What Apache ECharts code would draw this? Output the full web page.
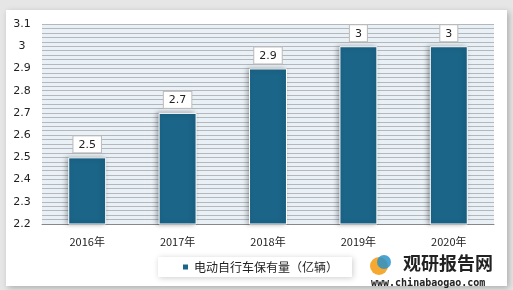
<!DOCTYPE html>
<html><head><meta charset="utf-8">
<script src="https://cdn.jsdelivr.net/npm/echarts@6/dist/echarts.min.js"></script>
<style>
html,body{margin:0;padding:0;background:#e6e6e6;}
#wrap{position:absolute;left:6px;top:10px;width:501px;height:276px;background:#fff;box-shadow:2px 2px 6px rgba(0,0,0,0.25);}
#c{position:absolute;left:0;top:0;width:513px;height:290px;}
</style></head>
<body>
<div id="wrap"></div>
<div id="c"></div>
<script>
const categories = ['2016年','2017年','2018年','2019年','2020年'];
const values = [2.5, 2.7, 2.9, 3, 3];
const seriesName = '电动自行车保有量（亿辆）';
const yMin = 2.2, yMax = 3.1, yStep = 0.1;

const chart = echarts.init(document.getElementById('c'));
chart.setOption({
  animation: false,
  textStyle: {fontFamily: 'Verdana, "DejaVu Sans", "Noto Sans CJK SC", sans-serif'},
  grid: {left: 42, right: 19, top: 24, bottom: 66},
  legend: {
    data: [seriesName],
    left: 158, top: 257,
    itemWidth: 7, itemHeight: 7, itemGap: 6,
    icon: 'rect',
    textStyle: {fontSize: 12, color: '#222', fontFamily: '"Noto Sans CJK SC", sans-serif'},
    padding: [4, 14, 4, 23],
    backgroundColor: '#fff',
    shadowColor: 'rgba(0,0,0,0.2)', shadowBlur: 6, shadowOffsetX: 1, shadowOffsetY: 1
  },
  xAxis: {
    type: 'category', data: categories,
    axisLine: {lineStyle: {color: '#888', width: 1}},
    axisTick: {show: false},
    axisLabel: {color: '#222', fontSize: 11, margin: 12, fontFamily: '"Noto Sans CJK SC", sans-serif'}
  },
  yAxis: {
    type: 'value', min: yMin, max: yMax, interval: yStep,
    axisLine: {show: false}, axisTick: {show: false},
    axisLabel: {color: '#222', fontSize: 11, margin: 20, align: 'center',
      formatter: v => String(Math.round(v*10)/10)},
    splitLine: {lineStyle: {color: '#b4b8bc', width: 1}},
    minorTick: {show: false, splitNumber: 5},
    minorSplitLine: {show: true, lineStyle: {color: '#b4b8bc', width: 1}},
    splitArea: {show: true, areaStyle: {color: ['#e9f0f6', '#e9f0f6']}}
  },
  series: [{
    name: seriesName, type: 'bar', data: values, barWidth: '42%',
    itemStyle: {color: '#1b6589', borderColor: '#fff', borderWidth: 1,
      shadowColor: 'rgba(0,0,0,0.35)', shadowBlur: 5, shadowOffsetX: -2, shadowOffsetY: 0},
    label: {show: true, position: 'top', distance: 5, color: '#222', fontSize: 11,
      backgroundColor: '#fff', borderColor: '#bbb', borderWidth: 1, padding: [3, 5, 2, 5],
      formatter: p => String(p.value)}
  }],
  graphic: [
    {type: 'circle', shape: {cx: 379, cy: 266, r: 9}, style: {fill: '#f5a01a', opacity: 0.9}},
    {type: 'circle', shape: {cx: 384, cy: 262, r: 7}, style: {fill: '#2a93c9', opacity: 0.85}},
    {type: 'text', left: 403, top: 254, style: {text: '观研报告网', fill: '#222', font: 'bold 18px "Noto Sans CJK SC", sans-serif'}},
    {type: 'text', left: 371, top: 278, style: {text: 'www.chinabaogao.com', fill: '#222', font: 'bold 10px "DejaVu Sans Mono", monospace'}}
  ]
});
</script>
</body></html>
